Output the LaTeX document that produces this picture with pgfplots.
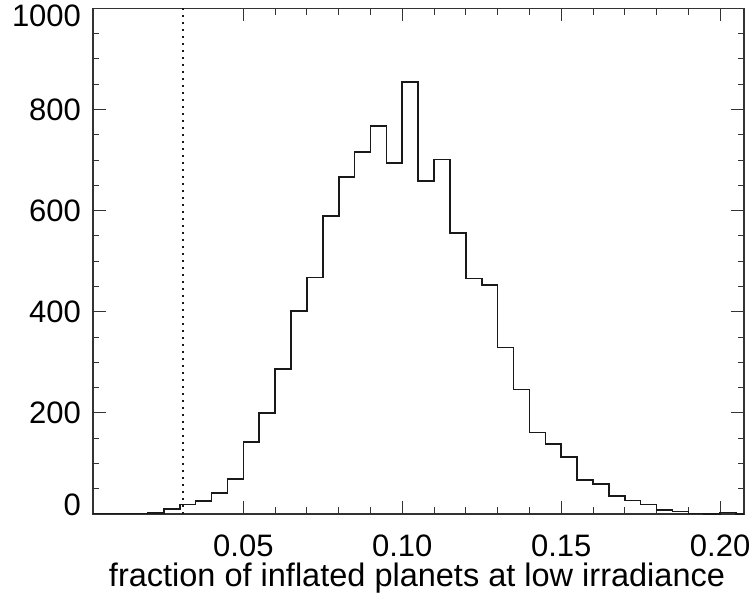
\documentclass[border=0pt]{standalone}
\usepackage{fontspec}
\setmainfont{Liberation Sans}
\usepackage{pgfplots}
\pgfplotsset{compat=1.18}
\begin{document}
\fontsize{31bp}{36bp}\selectfont
\begin{tikzpicture}
\begin{axis}[
  scale only axis,
  width=651bp, height=505.7bp,
  xmin=0.0027, xmax=0.2075,
  ymin=0, ymax=1000,
  xtick={0.05,0.10,0.15,0.20},
  minor x tick num=4,
  ytick={0,200,400,600,800,1000},
  minor y tick num=3,
  major tick length=12.7bp,
  minor tick length=6.5bp,
  tick style={line width=1bp, color=black!80},
  axis line style={line width=1.1bp, color=black!80},
  /pgf/number format/assume math mode=true,
  xticklabel style={/pgf/number format/.cd, fixed, fixed zerofill, precision=2, /tikz/.cd, yshift=-10bp},
  yticklabel style={xshift=-1.5bp},
  yticklabel={\ifdim\tick pt<1pt \raisebox{9bp}[\height][\depth]{0}\else\ifdim\tick pt>999pt \raisebox{-8bp}[\height][\depth]{1000}\else\pgfmathprintnumber{\tick}\fi\fi},
  every axis x label/.style={at={(rel axis cs:0.5,0)}, anchor=base, yshift=-72bp, xshift=-1.5bp, font=\fontsize{32.5bp}{38bp}\selectfont},
  xlabel={fraction of inflated planets at low irradiance},
  clip=true,
]
\addplot[const plot, line width=1.6bp, color=black!90] coordinates {
(0.000,1) (0.005,1) (0.010,1) (0.015,1) (0.020,2) (0.025,10) (0.030,19)
(0.035,26) (0.040,42) (0.045,69) (0.050,142) (0.055,200) (0.060,287)
(0.065,401) (0.070,468) (0.075,589) (0.080,666) (0.085,716) (0.090,767)
(0.095,694) (0.100,854) (0.105,659) (0.110,701) (0.115,556) (0.120,466)
(0.125,453) (0.130,329) (0.135,246) (0.140,161) (0.145,138) (0.150,113)
(0.155,67) (0.160,59) (0.165,36) (0.170,27) (0.175,19) (0.180,8)
(0.185,5) (0.190,1) (0.195,0) (0.200,3) (0.205,0) (0.210,0)
};
\addplot[line width=1.6bp, color=black!90, dash pattern=on 1.8bp off 5.2bp] coordinates {(0.031,0) (0.031,1000)};
\end{axis}
\pgfresetboundingbox
\path (-93bp,-86bp) rectangle (663bp,514bp);
\end{tikzpicture}
\end{document}
